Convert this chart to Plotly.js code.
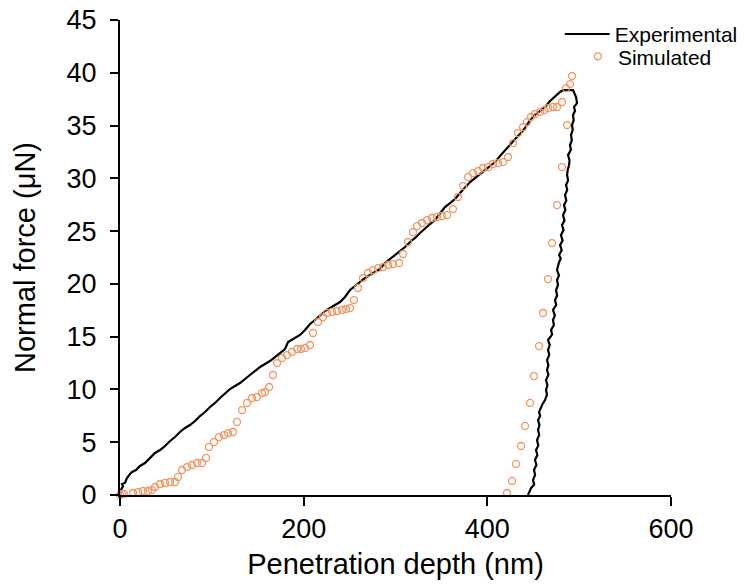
<!DOCTYPE html>
<html>
<head>
<meta charset="utf-8">
<script src="https://cdn.plot.ly/plotly-3.0.1.min.js"></script>
<style>html,body{margin:0;padding:0;background:#fff;}#chart{width:749px;height:585px;}</style>
</head>
<body>
<div id="chart"></div>
<script>
// Experimental curve: penetration depth (nm) and normal force (µN)
const expDepth = [0, 1.1, 3.3, 2.2, 5.4, 7.6, 10.9, 13.1, 17.4, 21.8, 27.2, 32.7, 38.1, 43.6, 49.0, 54.5, 59.9, 65.3, 70.8, 76.2, 81.7, 87.1, 92.6, 98.0, 103.5, 108.9, 114.3, 119.8, 125.2, 130.7, 136.1, 141.6, 147.0, 152.5, 157.9, 163.3, 168.8, 174.2, 179.7, 183.0, 188.4, 196.0, 201.5, 206.9, 212.4, 217.8, 223.2, 228.7, 234.1, 239.6, 245.0, 250.5, 255.9, 261.4, 266.8, 272.3, 277.7, 283.1, 288.6, 294.0, 299.5, 304.9, 310.4, 315.8, 321.3, 326.7, 332.1, 337.6, 343.0, 348.5, 353.9, 359.4, 364.8, 370.3, 375.7, 381.2, 386.6, 392.0, 397.5, 402.9, 408.4, 413.8, 419.3, 424.7, 430.2, 435.6, 441.1, 446.5, 451.9, 457.4, 462.8, 468.3, 473.7, 479.2, 482.4, 487.9, 493.3,
  496.6, 497.7, 494.4, 495.5, 493.3, 494.0, 492.2, 493.0, 491.1, 492.0, 490.0, 491.0, 487.9, 489.5, 489.0, 487.5, 486.8, 488.0, 485.7, 487.0, 484.6, 486.0, 483.5, 485.0, 482.4, 484.0, 481.3, 483.0, 480.2, 482.0, 479.2, 481.0, 478.1, 480.0, 478.1, 477.0, 475.9, 478.0, 475.9, 477.0, 474.8, 476.0, 473.7, 475.0, 471.5, 473.5, 471.5, 472.5, 469.4, 470.5, 466.1, 468.0, 466.1, 467.5, 465.0, 466.5, 465.0, 466.5, 463.9, 465.5, 463.9, 465.0, 462.8, 460.0, 458.5, 456.3, 457.5, 455.2, 456.8, 455.2, 456.5, 454.1, 455.5, 453.0, 454.5, 451.9, 453.5, 450.8, 452.0, 449.7, 451.0, 447.6, 444.3];
const expForce = [0, 0.47, 0.85, 1.04, 1.14, 1.61, 1.99, 2.18, 2.37, 2.75, 3.03, 3.51, 3.98, 4.26, 4.64, 5.12, 5.49, 5.97, 6.35, 6.63, 7.01, 7.48, 7.86, 8.34, 8.72, 9.19, 9.66, 10.04, 10.33, 10.61, 10.99, 11.37, 11.75, 12.13, 12.41, 12.69, 13.07, 13.45, 13.83, 14.49, 14.78, 15.16, 15.63, 16.20, 16.58, 17.05, 17.43, 17.71, 18.00, 18.28, 18.76, 19.42, 19.80, 20.18, 20.56, 20.84, 21.12, 21.41, 21.98, 22.36, 22.73, 23.11, 23.49, 23.97, 24.35, 24.82, 25.29, 25.67, 26.05, 26.71, 27.28, 27.66, 28.04, 28.61, 29.18, 29.65, 30.03, 30.41, 30.79, 31.17, 31.54, 32.11, 32.68, 33.25, 33.72, 34.20, 34.77, 35.52, 36.00, 36.38, 36.76, 37.33, 37.80, 38.18, 38.36, 38.36, 38.36,
  37.70, 37.13, 36.76, 36.40, 36.00, 35.50, 35.05, 34.60, 34.10, 33.60, 33.16, 32.70, 32.21, 31.70, 31.26, 30.80, 30.31, 29.80, 29.37, 28.90, 28.42, 27.90, 27.47, 27.00, 26.52, 26.00, 25.58, 25.10, 24.63, 24.10, 23.68, 23.20, 22.73, 22.40, 22.07, 21.70, 21.31, 20.80, 20.37, 19.90, 19.42, 18.90, 18.47, 18.00, 17.53, 17.00, 16.58, 16.10, 15.63, 15.20, 14.68, 14.20, 13.74, 13.30, 12.79, 12.30, 11.84, 11.40, 10.89, 10.40, 9.95, 9.50, 9.00, 8.60, 8.24, 7.86, 7.50, 7.10, 6.60, 6.16, 5.70, 5.21, 4.70, 4.26, 3.80, 3.32, 2.85, 2.37, 1.90, 1.42, 1.00, 0.66, 0];

// Simulated points
const simDepth = [0, 2.2, 4.4, 14.2, 19.6, 25.0, 30.5, 34.8, 38.1, 43.6, 49.0, 54.5, 59.9, 63.2, 67.5, 73.0, 78.4, 83.9, 89.3, 93.7, 96.9, 102.4, 107.8, 113.3, 117.6, 123.1, 127.4, 132.9, 138.3, 143.7, 149.2, 154.6, 157.9, 162.3, 166.6, 171.0, 176.4, 181.9, 187.3, 192.8, 197.1, 201.5, 206.9, 210.2, 215.6, 221.1, 225.4, 230.9, 236.3, 241.8, 246.1, 250.5, 254.8, 259.2, 264.6, 270.1, 275.5, 281.0, 286.4, 291.9, 297.3, 303.8, 308.2, 313.6, 319.1, 323.4, 328.9, 334.3, 339.8, 345.2, 350.7, 356.1, 362.6, 368.1, 373.5, 379.0, 384.4, 389.9, 395.3, 400.8, 406.2, 411.6, 417.1, 422.5, 428.0, 433.4, 438.9, 443.2, 447.6, 451.9, 457.4, 461.8, 466.1, 471.5, 475.9, 481.3, 485.7, 490.1, 492.2,
  486.8, 481.3, 475.9, 470.4, 466.1, 460.6, 456.3, 450.8, 446.5, 441.0, 436.7, 431.2, 426.9, 421.4];
const simForce = [0, 0.10, 0.10, 0.19, 0.28, 0.38, 0.38, 0.47, 0.76, 1.04, 1.14, 1.23, 1.23, 1.71, 2.37, 2.65, 2.84, 3.03, 3.03, 3.51, 4.55, 5.02, 5.49, 5.68, 5.87, 5.97, 6.92, 8.05, 8.72, 9.19, 9.28, 9.66, 9.76, 10.23, 11.37, 12.50, 12.98, 13.26, 13.55, 13.83, 13.83, 13.93, 14.21, 15.35, 16.39, 16.86, 17.24, 17.34, 17.43, 17.53, 17.62, 17.71, 18.47, 19.61, 20.56, 21.03, 21.31, 21.50, 21.60, 21.79, 21.88, 21.98, 22.83, 23.97, 24.91, 25.48, 25.77, 26.05, 26.24, 26.34, 26.43, 26.52, 27.09, 28.23, 29.27, 30.12, 30.50, 30.69, 30.98, 31.07, 31.36, 31.45, 31.54, 32.02, 33.34, 34.29, 34.86, 35.33, 35.81, 36.09, 36.28, 36.47, 36.66, 36.76, 36.76, 37.23, 38.55, 38.93, 39.69,
  35.05, 31.07, 27.47, 23.87, 20.46, 17.24, 14.11, 11.27, 8.72, 6.54, 4.64, 2.94, 1.33, 0.19];

const xTicks = [0, 200, 400, 600];
const yTicks = [0, 5, 10, 15, 20, 25, 30, 35, 40, 45];

const FONT = 'Liberation Sans, Arial, sans-serif';
const ORANGE = '#F09460';

const traces = [
  {
    x: expDepth, y: expForce, mode: 'lines', name: 'Experimental', legend: 'legend',
    line: {color: '#000000', width: 2.2}, cliponaxis: false
  },
  {
    x: simDepth, y: simForce, mode: 'markers', name: 'Simulated', legend: 'legend2',
    marker: {symbol: 'circle-open', size: 7, color: ORANGE, line: {width: 1.3, color: ORANGE}},
    cliponaxis: false
  }
];

const legendFont = {family: FONT, size: 21, color: '#000'};

const layout = {
  width: 749, height: 585,
  margin: {l: 120, r: 78, t: 20, b: 90, autoexpand: false},
  paper_bgcolor: '#ffffff', plot_bgcolor: '#ffffff',
  font: {family: FONT, color: '#000000'},
  showlegend: true,
  legend: {
    x: 0.798, y: 1.013, xanchor: 'left', yanchor: 'top', itemwidth: 45,
    font: legendFont, bgcolor: 'rgba(0,0,0,0)'
  },
  legend2: {
    x: 0.831, y: 0.966, xanchor: 'left', yanchor: 'top',
    font: legendFont, bgcolor: 'rgba(0,0,0,0)'
  },
  xaxis: {
    range: [0, 600], tickvals: xTicks, ticktext: xTicks.map(String),
    showgrid: false, zeroline: false, showline: true, linecolor: '#000', linewidth: 2,
    ticks: 'outside', ticklen: 9, tickwidth: 2, tickcolor: '#000',
    tickfont: {family: FONT, size: 27, color: '#000'},
    title: {text: 'Penetration depth (nm)', font: {family: FONT, size: 29, color: '#000'}, standoff: 10}
  },
  yaxis: {
    range: [0, 45], tickvals: yTicks, ticktext: yTicks.map(String),
    showgrid: false, zeroline: false, showline: true, linecolor: '#000', linewidth: 2,
    ticks: 'outside', ticklen: 8, tickwidth: 2, tickcolor: '#000', ticklabelstandoff: 8,
    tickfont: {family: FONT, size: 27, color: '#000'},
    title: {text: 'Normal force (\u03BCN)', font: {family: FONT, size: 29, color: '#000'}, standoff: 22}
  }
};

Plotly.newPlot('chart', traces, layout, {displayModeBar: false, staticPlot: true});
</script>
</body>
</html>
